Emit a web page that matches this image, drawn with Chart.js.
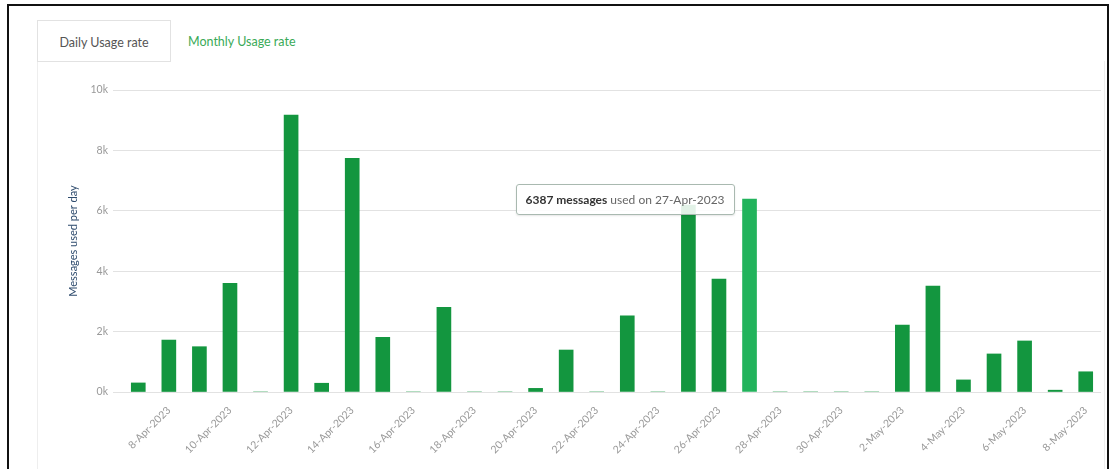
<!DOCTYPE html>
<html>
<head>
<meta charset="utf-8">
<script src="https://cdn.jsdelivr.net/npm/chart.js@4.4.0/dist/chart.umd.min.js"></script>
<style>
    body { margin: 0; width: 1110px; height: 469px; overflow: hidden; background: #fff; position: relative; font-family: Lato, "Open Sans", sans-serif; }
    .frame { position: absolute; left: 7px; top: 4px; width: 1102px; height: 500px; border: 2px solid #111; box-sizing: border-box; }
    .panel { position: absolute; left: 37px; top: 61px; width: 1066px; height: 420px; border-left: 1px solid #eee; border-right: 1px solid #eee; }
    .tab { position: absolute; top: 20px; height: 40px; line-height: 43px; font-size: 12.5px; }
    .tab.active { left: 37px; width: 132px; border: 1px solid #e2e2e2; color: #555; text-align: center; background: #fff; z-index: 2; }
    .tab.other { left: 188px; color: #3aaa57; }
    .wrap { position: absolute; left: 40px; top: 66px; width: 1068px; height: 403px; }
    #tip { position: absolute; display: none; background: rgba(255,255,255,0.88); border: 1px solid #a9b9b0; border-radius: 3px; padding: 7px 9px; font-size: 12px; color: #666; white-space: nowrap; box-shadow: 0 1px 2px rgba(0,0,0,0.1); }
    #tip b { color: #333; }
</style>
</head>
<body>
<div class="frame"></div>
<div class="panel"></div>
<div class="tab active">Daily Usage rate</div>
<div class="tab other">Monthly Usage rate</div>
<div class="wrap"><canvas id="usageChart"></canvas><div id="tip"></div></div>

<script>
const days = [
    "7-Apr-2023", "8-Apr-2023", "9-Apr-2023", "10-Apr-2023", "11-Apr-2023", "12-Apr-2023",
    "13-Apr-2023", "14-Apr-2023", "15-Apr-2023", "16-Apr-2023", "17-Apr-2023", "18-Apr-2023",
    "19-Apr-2023", "20-Apr-2023", "21-Apr-2023", "22-Apr-2023", "23-Apr-2023", "24-Apr-2023",
    "25-Apr-2023", "26-Apr-2023", "27-Apr-2023", "28-Apr-2023", "29-Apr-2023", "30-Apr-2023",
    "1-May-2023", "2-May-2023", "3-May-2023", "4-May-2023", "5-May-2023", "6-May-2023",
    "7-May-2023", "8-May-2023"
];

const messages = [
    300, 1720, 1500, 3600, 0, 9170,
    290, 7740, 1810, 0, 2800, 0,
    0, 120, 1390, 0, 2520, 0,
    6190, 3740, 6387, 0, 0, 0,
    0, 2220, 3510, 400, 1260, 1690,
    60, 670
];

const yTicks = [0, 2000, 4000, 6000, 8000, 10000];

// tooltip shown for this day
const shownDay = 20;

function htmlTooltip(context) {
    const tip = document.getElementById("tip");
    const tooltip = context.tooltip;
    if (tooltip.opacity === 0 || !tooltip.dataPoints || !tooltip.dataPoints.length) {
        tip.style.display = "none";
        return;
    }
    const point = tooltip.dataPoints[0];
    tip.innerHTML = "<b>" + point.raw + " messages</b> used on " + point.label;
    tip.style.display = "block";
    const el = point.element;
    tip.style.left = (el.x - 15 - tip.offsetWidth) + "px";
    tip.style.top = (el.y - tip.offsetHeight / 2) + "px";
}

const chart = new Chart(document.getElementById("usageChart"), {
    type: 'bar',
    data: {
        labels: days,
        datasets: [{
            label: 'Messages',
            data: messages,
            backgroundColor: '#13963f',
            hoverBackgroundColor: '#22b35c',
            barThickness: 14
        }]
    },
    options: {
        responsive: true,
        maintainAspectRatio: false,
        animation: false,
        layout: { padding: { top: 24, right: 7, left: 0, bottom: 0 } },
        plugins: {
            legend: { display: false },
            tooltip: { enabled: false, external: htmlTooltip }
        },
        scales: {
            x: {
                grid: { display: false },
                border: { display: false },
                afterFit: axis => { axis.height = 77; },
                ticks: {
                    autoSkip: false,
                    minRotation: 45,
                    maxRotation: 45,
                    padding: 4,
                    color: '#999',
                    font: { family: 'Lato', size: 10.5 },
                    callback: function (value, index) {
                        return index % 2 === 1 ? days[index] : '';
                    }
                }
            },
            y: {
                min: 0,
                max: 10000,
                afterFit: axis => { axis.width = 83; },
                afterBuildTicks: axis => { axis.ticks = yTicks.map(v => ({ value: v })); },
                grid: { color: '#e2e2e2', tickLength: 10, tickColor: '#e2e2e2' },
                border: { display: false },
                ticks: {
                    padding: 5,
                    color: '#999',
                    font: { family: 'Lato', size: 10.5 },
                    callback: v => (v / 1000) + 'k'
                },
                title: {
                    display: true,
                    text: 'Messages used per day',
                    color: '#2f4c6e',
                    font: { family: 'Lato', size: 11 },
                    padding: { top: 27, bottom: 0 }
                }
            }
        }
    }
});

const active = [{ datasetIndex: 0, index: shownDay }];
chart.setActiveElements(active);
chart.tooltip.setActiveElements(active, { x: 0, y: 0 });
chart.update();
</script>
</body>
</html>
